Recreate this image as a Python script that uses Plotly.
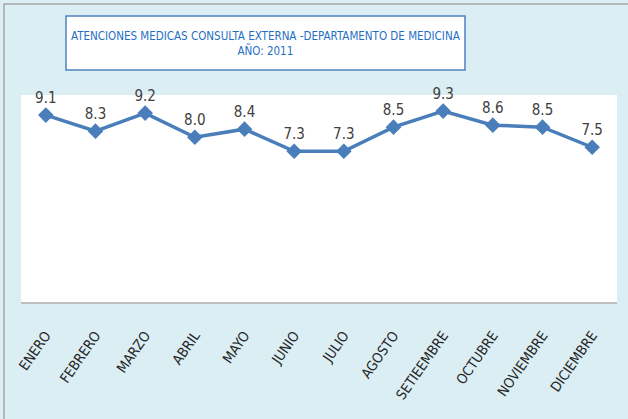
import plotly.graph_objects as go

months = ["ENERO", "FEBRERO", "MARZO", "ABRIL", "MAYO", "JUNIO", "JULIO",
          "AGOSTO", "SETIEEMBRE", "OCTUBRE", "NOVIEMBRE", "DICIEMBRE"]
values = [9.1, 8.3, 9.2, 8.0, 8.4, 7.3, 7.3, 8.5, 9.3, 8.6, 8.5, 7.5]
labels = [f"{v:.1f}" for v in values]

W, H = 628, 419
ml, mr, mt, mb = 21, 11, 95, 117
pw, ph = W - ml - mr, H - mt - mb

def px(x):
    return (x - ml) / pw

def py(y):
    return (H - mb - y) / ph

FONT = "DejaVu Sans Condensed, Roboto, sans-serif"

fig = go.Figure()
fig.add_trace(go.Scatter(
    x=months, y=values, mode="lines+markers+text",
    text=labels, textposition="top center",
    textfont=dict(family=FONT, size=15, color="#404040"),
    line=dict(color="#4A7EBB", width=3.5),
    marker=dict(symbol="diamond", size=12, color="#4A7EBB"),
    cliponaxis=False, showlegend=False, hoverinfo="skip",
))

fig.update_layout(
    width=W, height=H,
    margin=dict(l=ml, r=mr, t=mt, b=mb, autoexpand=False),
    paper_bgcolor="#DBEEF4",
    plot_bgcolor="white",
    xaxis=dict(range=[-0.5, 11.5], tickangle=-55, showgrid=False, zeroline=False,
               automargin=False, ticks="", showline=True, linecolor="#BFBFBF", linewidth=1.5,
               ticklabelstandoff=18,
               tickfont=dict(family=FONT, size=14, color="#262626")),
    yaxis=dict(range=[-0.2, 10.1], visible=False, showgrid=False, zeroline=False,
               automargin=False),
    shapes=[
        dict(type="rect", xref="paper", yref="paper",
             x0=px(4), x1=px(W + 10), y0=py(H + 10), y1=py(4),
             line=dict(color="#A6A6A6", width=1.5), fillcolor="rgba(0,0,0,0)", layer="below"),
        dict(type="rect", xref="paper", yref="paper",
             x0=px(66), x1=px(465), y0=py(70), y1=py(16),
             line=dict(color="#4F81BD", width=1.5), fillcolor="white", layer="below"),
    ],
    annotations=[
        dict(xref="paper", yref="paper", x=px(265.5), y=py(43), showarrow=False,
             xanchor="center", yanchor="middle",
             text="ATENCIONES MEDICAS CONSULTA EXTERNA -DEPARTAMENTO DE MEDICINA<br>AÑO: 2011",
             font=dict(family=FONT, size=11.5, color="#1F6FC5"),
             align="center"),
    ],
)

fig.write_html("out.html", config={"displayModeBar": False},
               post_script="document.body.style.margin='0';document.body.style.overflow='hidden';")
